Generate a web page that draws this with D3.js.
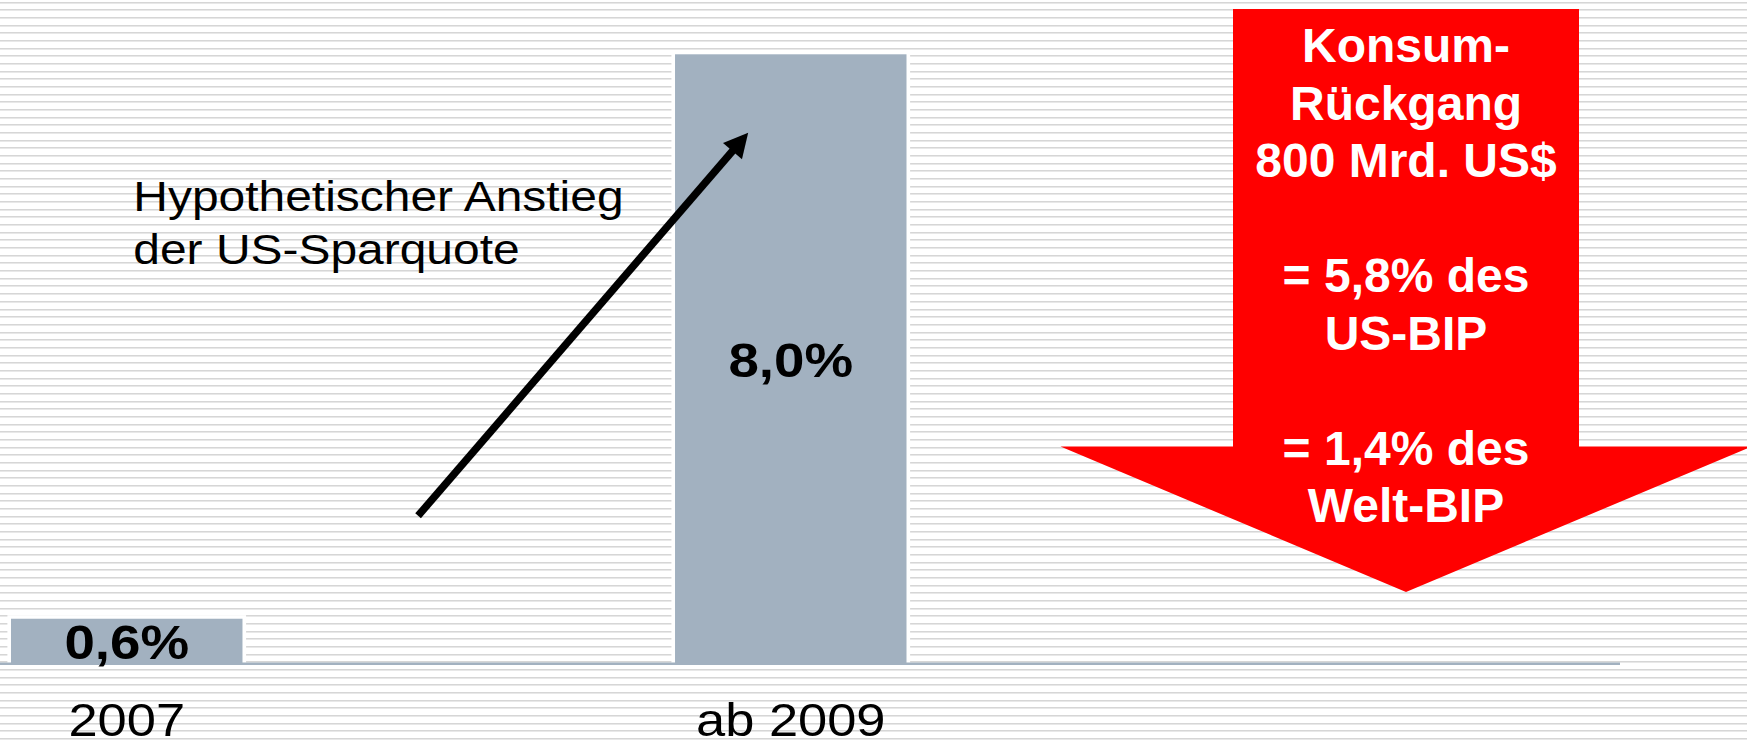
<!DOCTYPE html>
<html>
<head>
<meta charset="utf-8">
<script src="https://cdn.jsdelivr.net/npm/d3@7"></script>
<style>
  html, body { margin: 0; padding: 0; background: #ffffff; overflow: hidden; }
  text { font-family: "Liberation Sans", Arial, Helvetica, sans-serif; }
</style>
</head>
<body>
<script>
// US savings rate, 2007 vs. hypothetical level from 2009 on
const categories = ["2007", "ab 2009"];
const savingsRate = [0.6, 8.0];
const valueLabels = ["0,6%", "8,0%"];

// annotation beside the bars
const noteLines = ["Hypothetischer Anstieg", "der US-Sparquote"];

// text inside the red block arrow (empty strings are spacer lines)
const dropLines = ["Konsum-", "Rückgang", "800 Mrd. US$", "", "= 5,8% des", "US-BIP", "", "= 1,4% des", "Welt-BIP"];

const W = 1747, H = 741;
const barColor = "#a2b1c0";
const textStretch = 1.14;   // slightly widened lettering for the black text

const svg = d3.select("body").append("svg")
  .attr("width", W).attr("height", H)
  .attr("viewBox", `0 0 ${W} ${H}`);

// ---- striped backdrop ----
svg.append("rect").attr("width", W).attr("height", H).attr("fill", "#ffffff");
const stripes = svg.append("g").attr("shape-rendering", "crispEdges");
const stripeRows = d3.range(1.7, H, 7.67);
stripes.selectAll("rect.dark").data(stripeRows).join("rect")
  .attr("class", "dark")
  .attr("x", 0).attr("y", d => d).attr("width", W).attr("height", 1)
  .attr("fill", "#d6d6d6");
stripes.selectAll("rect.light").data(stripeRows).join("rect")
  .attr("class", "light")
  .attr("x", 0).attr("y", d => d + 1).attr("width", W).attr("height", 1)
  .attr("fill", "#e8e8e8");

// ---- scales ----
const x = d3.scaleBand()
  .domain(categories)
  .range([11, 906.5])
  .paddingInner(0.6514)
  .paddingOuter(0);

const y = d3.scaleLinear()
  .domain([0, 8])
  .range([664.5, 54.3]);

const data = categories.map((c, i) => ({ cat: c, value: savingsRate[i], label: valueLabels[i] }));

// ---- bars with a white halo ----
const halo = 3.6;
const bars = svg.append("g");
bars.selectAll("rect.halo").data(data).join("rect")
  .attr("class", "halo")
  .attr("x", d => x(d.cat) - halo)
  .attr("y", d => y(d.value) - halo)
  .attr("width", x.bandwidth() + 2 * halo)
  .attr("height", d => y(0) - y(d.value) + halo)
  .attr("fill", "#ffffff");
bars.selectAll("rect.bar").data(data).join("rect")
  .attr("class", "bar")
  .attr("x", d => x(d.cat))
  .attr("y", d => y(d.value))
  .attr("width", x.bandwidth())
  .attr("height", d => y(0) - y(d.value))
  .attr("fill", barColor);

// ---- baseline ----
svg.append("line")
  .attr("x1", 0).attr("x2", 1620)
  .attr("y1", y(0) - 0.8).attr("y2", y(0) - 0.8)
  .attr("stroke", barColor)
  .attr("stroke-width", 2.5);

// ---- category labels ----
const xAxis = svg.append("g")
  .attr("transform", `translate(0,${y(0)})`)
  .call(d3.axisBottom(x).tickSize(0).tickPadding(39));
xAxis.select(".domain").remove();
xAxis.selectAll("text")
  .attr("fill", "#000000")
  .attr("font-size", 46)
  .style("font-family", '"Liberation Sans", Arial, sans-serif')
  .attr("transform", `scale(${textStretch},1)`);

// ---- value labels, centred in each bar ----
const valueSize = 48;
svg.append("g").selectAll("text").data(data).join("text")
  .attr("transform", d => {
    const cx = x(d.cat) + x.bandwidth() / 2;
    const cy = (y(d.value) + y(0)) / 2 + 0.358 * valueSize;
    return `translate(${cx},${cy}) scale(${textStretch},1)`;
  })
  .attr("text-anchor", "middle")
  .attr("font-size", valueSize)
  .attr("font-weight", "bold")
  .attr("fill", "#000000")
  .text(d => d.label);

// ---- annotation text ----
const note = svg.append("g")
  .attr("transform", `translate(133.3,0) scale(1.128,1)`);
note.selectAll("text").data(noteLines).join("text")
  .attr("x", 0)
  .attr("y", (d, i) => 210.7 + i * 53.3)
  .attr("font-size", 42.5)
  .attr("fill", "#000000")
  .text(d => d);

// ---- rising arrow: from the gap between the bars up into the 2009 bar ----
const gapLeft = x(categories[0]) + x.bandwidth();
const gapWidth = x(categories[1]) - gapLeft;
const from = [gapLeft + 0.406 * gapWidth, y(1.95)];
const to = [x(categories[1]) + 0.316 * x.bandwidth(), y(6.97)];
const dx = to[0] - from[0], dy = to[1] - from[1];
const len = Math.hypot(dx, dy);
const ux = dx / len, uy = dy / len;
const headLen = 24, headHalf = 12.5;
const base = [to[0] - ux * headLen, to[1] - uy * headLen];
svg.append("line")
  .attr("x1", from[0]).attr("y1", from[1])
  .attr("x2", base[0] + ux * 2).attr("y2", base[1] + uy * 2)
  .attr("stroke", "#000000")
  .attr("stroke-width", 7.5);
svg.append("path")
  .attr("d", d3.line()([
    to,
    [base[0] - uy * headHalf, base[1] + ux * headHalf],
    [base[0] + uy * headHalf, base[1] - ux * headHalf]
  ]) + "Z")
  .attr("fill", "#000000");

// ---- red block arrow pointing down ----
const arrowCx = 1406, shaftHalf = 173, headHalfW = 345.5;
const shaftTop = 9, shoulder = 446.5, tipY = 592;
svg.append("path")
  .attr("d", d3.line()([
    [arrowCx - shaftHalf, shaftTop],
    [arrowCx + shaftHalf, shaftTop],
    [arrowCx + shaftHalf, shoulder],
    [arrowCx + headHalfW, shoulder],
    [arrowCx, tipY],
    [arrowCx - headHalfW, shoulder],
    [arrowCx - shaftHalf, shoulder]
  ]) + "Z")
  .attr("fill", "#ff0000");

svg.append("g").selectAll("text").data(dropLines).join("text")
  .attr("x", arrowCx)
  .attr("y", (d, i) => 62 + i * 57.5)
  .attr("text-anchor", "middle")
  .attr("font-size", 48)
  .attr("font-weight", "bold")
  .attr("fill", "#ffffff")
  .text(d => d);
</script>
</body>
</html>
